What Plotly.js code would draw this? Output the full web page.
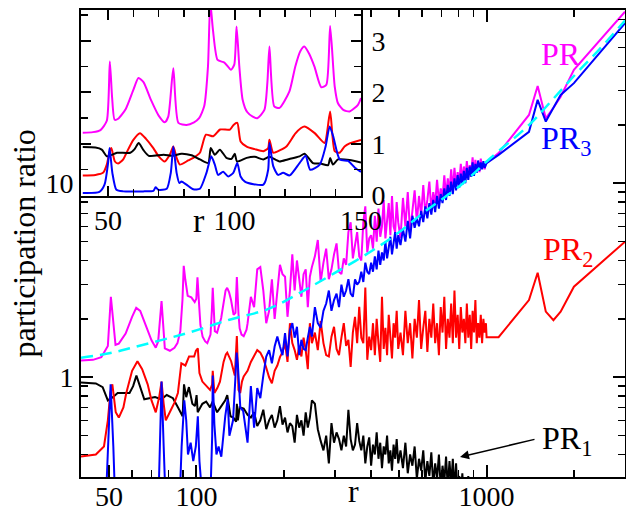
<!DOCTYPE html>
<html><head><meta charset="utf-8">
<script src="https://cdn.plot.ly/plotly-3.0.1.min.js"></script>
<style>html,body{margin:0;padding:0;background:#fff}#chart{width:626px;height:512px}</style>
</head><body><div id="chart"></div>
<script>
// ---------- data for r = 40..150 (shown in the inset and at the left of the main plot) ----------
const rPR_in  = [40,44,47,49.5,50.7,51.6,52.6,54,57,60,62,64,67,70,72.4,73.8,75.8,77.8,81,84,86,88,89.5,90.4,91.5,93.3,96,98.6,99.9,100.8,101.9,103.2,105,107.2,109,111.8,113,113.8,115.7,117.8,121.7,124,126,127.6,129.5,131.6,134.3,136.3,137.8,139.6,140.9,143,145.5,148.8,150];
const PR_in   = [1.22,1.23,1.27,1.45,2.6,1.9,1.47,1.49,1.68,2.05,2.28,2.2,1.85,1.55,1.42,1.53,2.47,1.41,1.37,1.42,1.5,1.73,2.5,3.75,3.2,2.63,2.58,2.44,2.54,3.28,2.5,1.86,1.62,1.53,1.5,1.66,2.2,2.89,1.73,1.7,2.02,2.5,2.8,2.89,2.75,2.5,2.1,2.15,3.29,2.12,1.79,1.66,1.63,1.76,1.89];

const rPR2_in = [40,45,48,49.5,50.5,51.3,52.7,54,56,57.3,60,62.6,65,67.9,70,72.4,74.4,75.8,77.1,78.4,81.7,84,86.3,88.7,91.6,94.3,98.2,99.6,101.1,102.4,104.8,108,111.4,113.3,113.8,115.3,118,120.5,124,126.3,127.7,131.7,135.6,137.8,139.6,141.5,143.5,145.5,150];
const PR2_in  = [0.39,0.4,0.44,0.6,0.83,0.92,0.66,0.62,0.7,0.83,1.08,1.21,1.1,0.92,0.76,0.66,0.79,0.95,0.73,0.6,0.68,0.74,0.83,1.18,1.15,1.28,1.28,1.37,1.41,1.05,0.95,0.9,0.86,0.92,1.08,0.83,0.88,0.95,1.2,1.31,1.34,1.21,1.02,1.63,0.86,0.83,0.95,1.01,1.08];

const rPR1_in = [40,45,47.5,49.5,51.5,53.5,58.8,60.5,62.1,64,66.1,72,75.6,79,83,86.3,89.6,90.6,92.2,94.2,96.8,98.8,100.1,101,104.8,108,111.4,113.8,117.8,121,125.7,127.7,131,134,137,137.8,138.9,140.9,145.5,150];
const PR1_in  = [0.94,0.93,0.89,0.76,0.79,0.83,0.83,0.9,1.02,0.88,0.77,0.79,0.77,0.81,0.78,0.7,0.63,0.92,0.79,0.89,0.73,0.71,0.81,0.66,0.73,0.75,0.7,0.75,0.66,0.7,0.76,0.81,0.63,0.62,0.59,0.73,0.6,0.7,0.69,0.64];

const rPR3_in = [40,46.6,48.6,50,50.6,51.7,53.3,56,63.9,67.9,68.8,69.9,73.2,74.8,75.8,77.1,78.2,79,81,83.7,86.3,88.9,90.8,92.2,93.5,95.5,97.5,99.5,101.1,102.4,104.1,107.5,111.4,113.3,113.8,115.3,117.2,119.2,121.8,125.7,128.1,129.9,133.7,136,137.6,139,141.6,144.9,147.6,150];
const PR3_in  = [0.05,0.07,0.21,0.63,0.92,0.44,0.11,0.08,0.08,0.09,0.16,0.11,0.13,0.44,0.95,0.44,0.24,0.27,0.21,0.12,0.13,0.44,0.76,0.6,0.4,0.46,0.37,0.44,0.63,0.37,0.27,0.22,0.21,0.5,1.02,0.57,0.4,0.44,0.39,0.63,0.77,0.5,0.6,0.95,1.34,1.15,0.7,0.67,0.54,0.46];

// ---------- noisy data, r = 154..1000 ----------
const rNoise = [154,158,162,166,170,174,178,182,186,190,194,198,202,206,210,214,218,222,226,230,234,238,242,246,250,
256,262,268,274,280,286,292,298,304,310,316,322,328,334,340,346,352,358,364,370,376,382,388,394,400,406,412,418,424,430,436,442,448,454,460,466,472,478,484,490,496,
505,515,525,535,545,555,565,575,585,595,605,615,625,635,645,655,665,675,685,695,705,715,725,735,745,755,765,775,785,795,805,815,825,835,845,855,865,875,885,895,905,915,925,935,945,955,965,975,985,995,1000];

const PR_noise = [2.6,2.3,3.6,3.7,2.8,1.9,2.2,3.2,2.0,2.7,3.8,3.4,3.3,2.05,2.8,4.3,2.8,4.0,3.1,2.6,3.4,3.6,2.3,3.3,3.7,
4.2,5.1,3.1,3.9,4.6,3.2,3.6,4.3,4.9,3.5,3.4,4.1,3.8,5.6,6.3,4.1,4.7,5.6,4.2,4.0,6.3,7.6,4.4,5.2,5.4,4.6,6.8,5.0,7.4,5.3,6.0,8.2,5.2,6.5,7.9,5.4,8.6,6.0,5.6,8.0,6.3,
5.2,8.4,6.0,9.0,5.6,7.2,9.2,6.3,8.6,6.8,9.8,7.0,8.2,10.2,7.3,9.0,7.8,10.4,8.0,9.4,8.4,11.0,8.6,10.6,9.0,11.8,9.2,12.0,9.6,11.4,10.0,12.6,10.2,12.2,10.6,13.0,10.8,12.4,11.2,13.6,11.0,13.2,11.6,12.8,11.4,13.4,12.0,12.6,11.8,13.0,12.7];

const PR3_noise = [0.9,0.55,0.88,0.78,1.02,1.28,1.38,1.18,1.44,1.62,1.44,1.3,1.69,1.28,1.75,1.9,1.6,1.82,1.3,1.56,1.4,1.38,1.6,1.82,1.62,
2.3,1.9,1.8,2.2,2.4,2.8,2.2,2.5,2.7,2.3,3.0,2.6,2.8,3.2,2.7,2.6,3.2,3.0,3.1,3.5,3.1,3.9,3.5,3.4,3.9,3.5,4.2,3.6,4.5,3.8,4.4,4.0,5.0,4.1,4.6,5.3,4.3,5.0,5.6,4.6,5.4,
4.8,5.8,5.0,6.4,5.2,6.8,5.9,6.6,6.0,7.2,6.3,7.6,6.6,7.9,6.9,8.2,7.1,8.6,7.4,8.8,7.9,9.4,8.2,9.8,8.6,10.2,8.8,10.6,9.2,11.0,9.5,11.2,9.8,11.6,10.0,12.0,10.4,12.2,10.8,12.8,10.9,12.6,11.3,13.1,11.6,12.8,11.8,13.0,12.0,12.6,12.7];

const PR2_noise = [1.2,1.3,1.38,1.34,1.25,1.12,1.0,0.93,1.08,1.15,1.27,1.35,1.5,1.2,1.9,1.5,1.38,1.23,1.45,1.28,1.6,1.38,1.1,1.9,1.5,
1.7,1.38,1.95,1.5,1.3,1.28,1.62,1.82,1.4,1.3,1.6,1.9,1.45,1.56,1.13,1.7,2.05,1.5,2.31,1.6,1.5,2.9,1.23,1.62,1.38,1.9,1.3,2.0,1.5,1.2,2.6,1.4,1.8,1.3,2.1,1.5,1.25,1.9,1.6,2.2,1.4,
1.7,1.3,2.2,1.5,1.9,1.25,2.0,1.6,2.5,1.4,1.8,2.2,1.35,2.0,1.6,2.4,1.5,1.9,1.3,2.3,1.7,2.6,1.4,2.0,1.6,2.4,1.5,2.8,1.6,2.1,1.4,2.3,1.7,2.0,1.5,2.4,1.6,2.1,1.4,2.2,1.7,2.5,1.5,1.9,1.6,2.1,1.5,2.0,1.7,1.9,1.61];

const PR1_noise = [0.62,0.66,0.56,0.6,0.68,0.54,0.6,0.64,0.55,0.6,0.71,0.57,0.62,0.52,0.58,0.56,0.46,0.64,0.55,0.6,0.5,0.66,0.55,0.62,0.76,
0.73,0.54,0.47,0.42,0.5,0.36,0.58,0.46,0.52,0.48,0.42,0.5,0.44,0.68,0.48,0.42,0.45,0.58,0.47,0.42,0.5,0.36,0.44,0.49,0.35,0.45,0.4,0.52,0.38,0.46,0.34,0.44,0.4,0.5,0.36,0.42,0.33,0.45,0.38,0.48,0.36,
0.42,0.34,0.46,0.32,0.4,0.35,0.44,0.3,0.38,0.33,0.42,0.29,0.37,0.31,0.41,0.28,0.36,0.3,0.4,0.27,0.35,0.29,0.39,0.27,0.37,0.28,0.38,0.26,0.36,0.25,0.31,0.24,0.32,0.23,0.3,0.22,0.31,0.21,0.28,0.2,0.26,0.2,0.25,0.19,0.24,0.19,0.23,0.18,0.22,0.18,0.18];

// ---------- sparse tail, r > 1000 ----------
const rTail    = [1100,1400,1500,1600,1700,1800,2000,3000];
const PR_tail  = [14.3,22.5,31.7,21.6,24.5,27.9,38.4,76.6];
const PR3_tail = [14.0,18.4,26.9,20.8,24.5,28.5,32.8,66.8];
const PR2_tail = [1.61,2.5,3.46,2.18,1.97,2.18,2.93,5.0];

// ---------- cyan dashed fit ----------
const rFit = [40,50,60,75,93,130,177,227,250,300,404,500,602,816,1021,1402,1685,2028,2439,3000];
const vFit = [1.26,1.33,1.42,1.55,1.69,1.98,2.25,2.72,2.95,3.45,4.5,5.6,7.0,9.8,13.3,20.0,26.9,36.5,48.7,69];

// ---------- tick labels ----------
const mainXTicks = [50,100,1000];
const mainXMinor = [60,70,80,90,200,300,400,500,600,700,800,900,2000];
const mainYTicks = [1,10];
const mainYMinor = [0.4,0.5,0.6,0.7,0.8,0.9,2,3,4,5,6,7,8,9,20,30,40,50,60,70];
const insetXTicks = [50,100,150];
const insetXMinor = [60,70,80,90,110,120,130,140];
const insetYTicks = [0,1,2,3];
const insetYMinor = [0.5,1.5,2.5,3.5];

const MAGENTA='#ff00ff', RED='#ff0000', BLUE='#0000ff', BLACK='#000000', CYAN='#00ffff';
const FONT = '"Liberation Serif", "Times New Roman", serif';

function tr(x, y, color, xa, ya, extra) {
  return Object.assign({type:'scatter', mode:'lines', x:x, y:y, xaxis:xa, yaxis:ya,
    line:{color:color, width:2}, hoverinfo:'skip'}, extra||{});
}
const smooth = (c) => ({line:{color:c, width:2, shape:'spline', smoothing:0.6}});

const traces = [
  tr(rPR1_in.concat(rNoise), PR1_in.concat(PR1_noise), BLACK, 'x', 'y'),
  tr(rPR2_in.concat(rNoise, rTail), PR2_in.concat(PR2_noise, PR2_tail), RED, 'x', 'y'),
  tr(rPR_in.concat(rNoise, rTail), PR_in.concat(PR_noise, PR_tail), MAGENTA, 'x', 'y'),
  tr(rPR3_in.concat(rNoise, rTail), PR3_in.concat(PR3_noise, PR3_tail), BLUE, 'x', 'y'),
  tr(rFit, vFit, CYAN, 'x', 'y', {line:{color:CYAN, width:2.5, dash:'12px,7px', shape:'spline'}}),
  // inset
  tr(rPR_in, PR_in, MAGENTA, 'x2', 'y2', smooth(MAGENTA)),
  tr(rPR2_in, PR2_in, RED, 'x2', 'y2', smooth(RED)),
  tr(rPR1_in, PR1_in, BLACK, 'x2', 'y2', smooth(BLACK)),
  tr(rPR3_in, PR3_in, BLUE, 'x2', 'y2', smooth(BLUE))
];

const L=81, R=1, T=10, B=35, W=626, H=512;
const pw = W-L-R, ph = H-T-B;
function px(x){return (x-L)/pw;}
function py(y){return (H-B-y)/ph;}

const axBase = {ticks:'inside', tickcolor:'#000', tickwidth:2, showline:true, linewidth:2, linecolor:'#000',
  mirror:'allticks', showgrid:false, zeroline:false, tickfont:{family:FONT, size:28, color:'#000'}};

const layout = {
  width:W, height:H, margin:{l:L, r:R, t:T, b:B}, paper_bgcolor:'#fff', plot_bgcolor:'#fff',
  showlegend:false, font:{family:FONT, size:28, color:'#000'},
  xaxis: Object.assign({}, axBase, {type:'log', domain:[0,1], anchor:'y',
    range:[Math.log10(40), Math.log10(3000)], tickmode:'array', tickvals:mainXTicks,
    ticktext:mainXTicks.map(String), ticklen:12, ticklabelstandoff:-7,
    minor:{tickmode:'array', tickvals:mainXMinor, ticks:'inside', ticklen:7, tickwidth:1.5, tickcolor:'#000', showgrid:false}}),
  yaxis: Object.assign({}, axBase, {type:'log', domain:[0,1], anchor:'x',
    range:[-0.514, 1.893], tickmode:'array', tickvals:mainYTicks, ticktext:mainYTicks.map(String), ticklen:12,
    minor:{tickmode:'array', tickvals:mainYMinor, ticks:'inside', ticklen:7, tickwidth:1.5, tickcolor:'#000', showgrid:false}}),
  xaxis2: Object.assign({}, axBase, {domain:[0, (361-L)/pw], anchor:'y2', range:[39.3,150],
    tickmode:'array', tickvals:insetXTicks, ticktext:insetXTicks.map(String), ticklen:10, ticklabelstandoff:-1,
    minor:{tickmode:'array', tickvals:insetXMinor, ticks:'inside', ticklen:7, tickwidth:1.5, tickcolor:'#000', showgrid:false}}),
  yaxis2: Object.assign({}, axBase, {domain:[py(195.5), 1], anchor:'x2', side:'right', range:[0,3.6],
    tickmode:'array', tickvals:insetYTicks, ticktext:insetYTicks.map(String), ticklen:10, ticklabelstandoff:3,
    minor:{tickmode:'array', tickvals:insetYMinor, ticks:'inside', ticklen:7, tickwidth:1.5, tickcolor:'#000', showgrid:false}}),
  annotations: [
    {text:'participation ratio', xref:'paper', yref:'paper', x:px(23), y:0.5, textangle:-90,
     xanchor:'center', yanchor:'middle', showarrow:false, font:{family:FONT, size:32, color:'#000'}},
    {text:'r', xref:'paper', yref:'paper', x:0.5, y:py(511), xanchor:'center', yanchor:'bottom',
     showarrow:false, font:{family:FONT, size:32, color:'#000'}},
    {text:'r', xref:'paper', yref:'paper', x:px(199), y:py(221), xanchor:'center', yanchor:'middle',
     showarrow:false, font:{family:FONT, size:34, color:'#000'}},
    {text:'PR', xref:'paper', yref:'paper', x:px(539), y:py(54), xanchor:'left', yanchor:'middle',
     showarrow:false, font:{family:FONT, size:32, color:MAGENTA}},
    {text:'PR<sub>3</sub>', xref:'paper', yref:'paper', x:px(539), y:py(118), xanchor:'left', yanchor:'top',
     showarrow:false, font:{family:FONT, size:32, color:BLUE}},
    {text:'PR<sub>2</sub>', xref:'paper', yref:'paper', x:px(541), y:py(229), xanchor:'left', yanchor:'top',
     showarrow:false, font:{family:FONT, size:32, color:RED}},
    {text:'PR<sub>1</sub>', xref:'paper', yref:'paper', x:px(540), y:py(418), xanchor:'left', yanchor:'top',
     showarrow:false, font:{family:FONT, size:32, color:BLACK}},
    {text:'', xref:'paper', yref:'paper', x:px(460), y:py(457), axref:'pixel', ayref:'pixel', ax:76, ay:-18,
     showarrow:true, arrowhead:2, arrowsize:1.2, arrowwidth:1.5, arrowcolor:'#000'}
  ]
};

Plotly.newPlot('chart', traces, layout, {staticPlot:true, displayModeBar:false});
</script>
</body></html>
